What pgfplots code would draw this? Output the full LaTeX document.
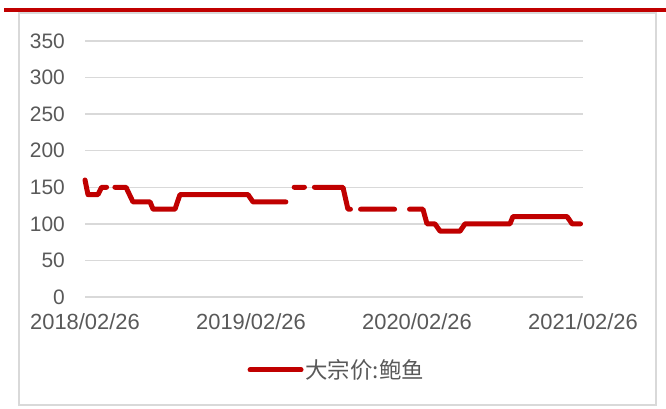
\documentclass[border=0pt]{standalone}
\usepackage{fontspec}
\setmainfont{Liberation Sans}
\newfontfamily\cjk{Noto Sans CJK SC}
\usepackage{pgfplots}
\pgfplotsset{compat=1.18}
\definecolor{lred}{HTML}{C00000}
\definecolor{tgray}{HTML}{595959}
\definecolor{ggray}{HTML}{D9D9D9}
\begin{document}
\begin{tikzpicture}[x=1bp,y=1bp]
\path[use as bounding box] (0,0) rectangle (666,408);
\fill[white] (0,0) rectangle (666,408);
\draw[ggray, line width=1.5bp] (19,3) rectangle (656,395);
\fill[lred] (4,396) rectangle (666,400);
\begin{axis}[
  at={(85bp,111bp)}, anchor=south west,
  scale only axis, width=498bp, height=256bp,
  xmin=0, xmax=3, ymin=0, ymax=350,
  xtick={0,1,2,3},
  xticklabels={2018/02/26,2019/02/26,2020/02/26,2021/02/26},
  ytick={0,50,...,350},
  axis line style={draw=none},
  tick style={draw=none},
  ymajorgrids, grid style={ggray, line width=1.5bp},
  tick label style={text=tgray},
  /pgf/number format/assume math mode=true,
  yticklabel style={font=\fontsize{21}{24}\selectfont, anchor=east, inner sep=0pt, xshift=-20bp},
  xticklabel style={font=\fontsize{22}{24}\selectfont, anchor=north, inner sep=0pt, yshift=-16bp},
  unbounded coords=jump,
  clip=false,
  legend style={at={(0.326,-0.285)}, anchor=west, draw=none, fill=none, inner sep=0pt,
    font=\cjk\fontsize{22.5}{24}\selectfont, text=tgray},
  legend cell align=left,
  legend image code/.code={\draw[line width=5bp, line cap=round, lred] (2.5bp,0) -- (53.5bp,0);},
]
\addplot[lred, line width=5bp, line cap=round, line join=round] coordinates {
(0,160) (0.018,140) (0.078,140) (0.10,150) (0.13,150)
(0.15,nan)
(0.18,150) (0.247,150) (0.289,130) (0.392,130) (0.41,120) (0.542,120)
(0.572,140) (0.982,140) (1.012,130) (1.21,130)
(1.23,nan)
(1.26,150) (1.322,150)
(1.35,nan)
(1.382,150) (1.554,150) (1.584,120) (1.599,120)
(1.63,nan)
(1.66,120) (1.865,120)
(1.9,nan)
(1.955,120) (2.036,120) (2.06,100) (2.108,100) (2.139,90) (2.259,90)
(2.289,100) (2.56,100) (2.578,110) (2.904,110) (2.934,100) (2.985,100)
};
\addlegendentry{大宗价:鲍鱼}
\end{axis}
\end{tikzpicture}
\end{document}
